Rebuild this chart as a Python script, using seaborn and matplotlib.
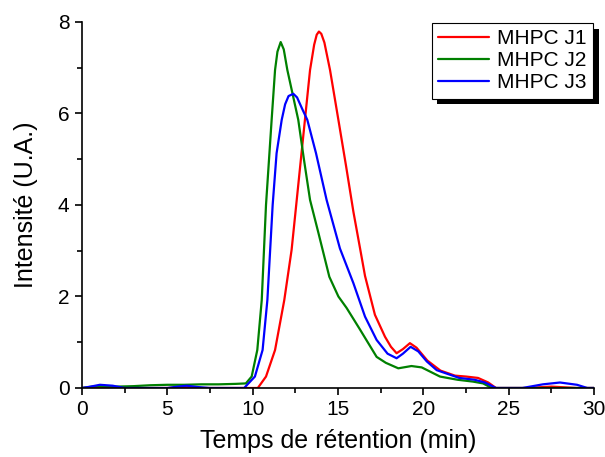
import matplotlib
matplotlib.use("Agg")
import matplotlib.pyplot as plt
import matplotlib.patheffects as pe
from matplotlib.ticker import MultipleLocator
import pandas as pd
import seaborn as sns

# chromatogram readings (time in min, intensity in U.A.)
j1_t = [0, 1.0, 1.5, 2.5, 5, 6, 7, 10.0, 10.3, 10.78, 11.31, 11.85, 12.28, 12.55,
        13.06, 13.36, 13.6, 13.75, 13.88, 14.02, 14.2, 14.53, 15.02, 15.47, 15.9,
        16.29, 16.58, 17.16, 17.75, 18.1, 18.43, 18.8, 19.21, 19.6, 20.23, 21.0,
        21.85, 22.5, 23.2, 23.8, 24.25, 26, 27.5, 29, 30]
j1_v = [0, 0.01, 0.02, 0.0, 0, 0.02, 0.0, 0, 0.0, 0.25, 0.83, 1.92, 3.02, 4.0,
        5.86, 6.95, 7.5, 7.72, 7.79, 7.74, 7.55, 6.95, 5.86, 4.85, 3.85,
        3.05, 2.45, 1.6, 1.12, 0.9, 0.76, 0.85, 0.98, 0.88, 0.6, 0.38,
        0.27, 0.25, 0.22, 0.12, 0.0, 0, 0.03, 0, 0]

j2_t = [0, 0.8, 2, 3, 4, 5, 6, 7, 8, 9, 9.6, 9.94, 10.27, 10.53, 10.78, 11.11,
        11.31, 11.45, 11.64, 11.82, 12.03, 12.67, 13.0, 13.36, 13.85, 14.49,
        15.02, 15.5, 16.25, 17.26, 17.8, 18.53, 19.3, 19.9, 20.97, 22.0, 22.9,
        23.5, 24.0, 30]
j2_v = [0, 0.04, 0.03, 0.04, 0.06, 0.07, 0.07, 0.08, 0.08, 0.09, 0.1, 0.25, 0.83,
        1.92, 4.0, 5.86, 6.95, 7.35, 7.56, 7.4, 6.95, 5.86, 5.0, 4.11, 3.39, 2.43,
        2.0, 1.75, 1.3, 0.68, 0.55, 0.43, 0.48, 0.45, 0.25, 0.18, 0.14,
        0.1, 0.0, 0]

j3_t = [0, 0.5, 1.05, 1.8, 2.5, 5.0, 5.6, 6.13, 6.8, 7.5, 9.5, 10.13, 10.58, 10.86,
        11.17, 11.40, 11.70, 11.9, 12.1, 12.38, 12.6, 12.9, 13.20, 13.71, 14.33,
        15.11, 15.9, 16.58, 17.26, 17.9, 18.43, 18.8, 19.25, 19.7, 20.2, 20.78,
        22.1, 23.0, 23.6, 24.25, 25.8, 27.0, 28.0, 29.0, 29.6, 30]
j3_v = [0, 0.03, 0.07, 0.05, 0.0, 0.0, 0.03, 0.05, 0.02, 0.0, 0.0, 0.25, 0.83, 1.92,
        4.0, 5.13, 5.86, 6.2, 6.38, 6.43, 6.35, 6.1, 5.86, 5.13, 4.11,
        3.05, 2.29, 1.56, 1.05, 0.75, 0.65, 0.75, 0.9, 0.8, 0.58, 0.39,
        0.22, 0.18, 0.12, 0.0, 0.0, 0.08, 0.12, 0.07, 0.0, 0]

labels = ["MHPC J1", "MHPC J2", "MHPC J3"]
colors = ["#ff0000", "#008000", "#0000ff"]

df = pd.concat([
    pd.DataFrame({"t": j1_t, "v": j1_v, "sample": labels[0]}),
    pd.DataFrame({"t": j2_t, "v": j2_v, "sample": labels[1]}),
    pd.DataFrame({"t": j3_t, "v": j3_v, "sample": labels[2]}),
])

sns.set_style("ticks")
plt.rcParams["font.family"] = ["Liberation Sans", "DejaVu Sans"]
plt.rcParams["text.color"] = "black"
plt.rcParams["axes.labelcolor"] = "black"
plt.rcParams["xtick.color"] = "black"
plt.rcParams["ytick.color"] = "black"

fig = plt.figure(figsize=(6.05, 4.57), dpi=100)
ax = fig.add_axes([0.1355, 0.151, 0.8465, 0.801])

sns.lineplot(data=df, x="t", y="v", hue="sample", palette=dict(zip(labels, colors)),
             estimator=None, sort=False, linewidth=1.6, ax=ax)

ax.set_xlim(0, 30)
ax.set_ylim(0, 8)
ax.xaxis.set_major_locator(MultipleLocator(5))
ax.xaxis.set_minor_locator(MultipleLocator(2.5))
ax.yaxis.set_major_locator(MultipleLocator(2))
ax.yaxis.set_minor_locator(MultipleLocator(1))
ax.tick_params(which="major", length=5, width=1.2, labelsize=15, color="black",
               labelcolor="black", pad=4)
ax.tick_params(which="minor", length=3.5, width=1.2, color="black")
for s in ["top", "right"]:
    ax.spines[s].set_visible(False)
for s in ["left", "bottom"]:
    ax.spines[s].set_linewidth(1.2)
    ax.spines[s].set_color("black")

ax.set_xlabel("Temps de rétention (min)", fontsize=18, labelpad=7, color="black")
ax.set_ylabel("Intensité (U.A.)", fontsize=18, labelpad=14, color="black")

leg = ax.legend(loc="upper right", fontsize=15, frameon=True, fancybox=False,
                borderaxespad=0.05, handlelength=2.45, handletextpad=0.4,
                labelspacing=0.15, borderpad=0.3)
frame = leg.get_frame()
frame.set_edgecolor("black")
frame.set_linewidth(0.8)
frame.set_alpha(1)
frame.set_path_effects([pe.SimplePatchShadow(offset=(4, -4), shadow_rgbFace="black", alpha=1),
                        pe.Normal()])
for txt in leg.get_texts():
    txt.set_color("black")
leg.set_title(None)

fig.savefig("out.png", dpi=100)
